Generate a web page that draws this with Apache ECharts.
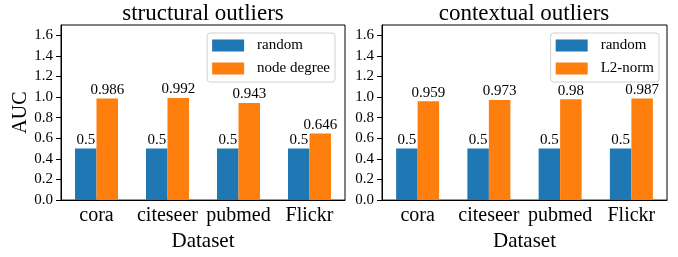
<!DOCTYPE html>
<html>
<head>
<meta charset="utf-8">
<script src="https://cdn.jsdelivr.net/npm/echarts@6/dist/echarts.min.js"></script>
<style>
    html, body { margin: 0; padding: 0; background: #fff; }
    #chart { width: 678px; height: 257px; }
</style>
</head>
<body>
<div id="chart"></div>
<script>
// 数据
const categories = ['cora', 'citeseer', 'pubmed', 'Flickr'];
const structRandom = [0.5, 0.5, 0.5, 0.5];
const nodeDegree = [0.986, 0.992, 0.943, 0.646];
const ctxRandom = [0.5, 0.5, 0.5, 0.5];
const l2Norm = [0.959, 0.973, 0.98, 0.987];
const yTicks = [0, 0.2, 0.4, 0.6, 0.8, 1.0, 1.2, 1.4, 1.6];

const font = 'Liberation Serif';
const blue = '#1f77b4';
const orange = '#ff7f0e';

const chart = echarts.init(document.getElementById('chart'));

function xAxis(gridIndex) {
    return {
        type: 'category',
        gridIndex: gridIndex,
        data: categories,
        name: 'Dataset',
        nameLocation: 'middle',
        nameGap: 26,
        nameTextStyle: { fontFamily: font, fontSize: 21, color: '#000' },
        axisLine: { lineStyle: { color: '#000', width: 1 } },
        axisTick: { alignWithLabel: true, interval: 0, length: 5, lineStyle: { color: '#000' } },
        axisLabel: { fontFamily: font, fontSize: 20, color: '#000', margin: 6, interval: 0 }
    };
}

function yAxis(gridIndex, withName) {
    return {
        type: 'value',
        gridIndex: gridIndex,
        min: 0,
        max: 1.7,
        interval: 0.2,
        name: withName ? 'AUC' : '',
        nameLocation: 'middle',
        nameRotate: 90,
        nameGap: 29,
        nameTextStyle: { fontFamily: font, fontSize: 20, color: '#000' },
        axisLine: { show: true, lineStyle: { color: '#000', width: 1 } },
        axisTick: { show: true, length: 5, customValues: yTicks, lineStyle: { color: '#000' } },
        axisLabel: {
            fontFamily: font, fontSize: 15, color: '#000', margin: 8,
            customValues: yTicks,
            formatter: v => v.toFixed(1)
        },
        splitLine: { show: false }
    };
}

function bar(name, data, color, idx) {
    return {
        type: 'bar',
        name: name,
        data: data,
        xAxisIndex: idx,
        yAxisIndex: idx,
        barWidth: 21.5,
        barGap: '0%',
        itemStyle: { color: color },
        label: {
            show: true,
            position: 'top',
            distance: 1,
            fontFamily: font,
            fontSize: 15,
            color: '#000'
        }
    };
}

function legend(names, right) {
    return {
        data: names,
        orient: 'vertical',
        right: right,
        top: 33,
        icon: 'rect',
        itemWidth: 32,
        itemHeight: 12,
        itemGap: 8,
        padding: [5, 5, 6, 5],
        borderColor: '#d0d0d0',
        borderWidth: 1,
        borderRadius: 3,
        backgroundColor: 'rgba(255,255,255,0.8)',
        textStyle: { fontFamily: font, fontSize: 15, color: '#000', padding: [0, 0, 0, 8], lineHeight: 15 }
    };
}

const option = {
    animation: false,
    backgroundColor: '#fff',
    title: [
        {
            text: 'structural outliers', left: 203, top: 2, textAlign: 'center', padding: 0,
            textStyle: { fontFamily: font, fontSize: 23, fontWeight: 'normal', color: '#000' }
        },
        {
            text: 'contextual outliers', left: 524, top: 2, textAlign: 'center', padding: 0,
            textStyle: { fontFamily: font, fontSize: 23, fontWeight: 'normal', color: '#000' }
        }
    ],
    legend: [
        legend(['random', 'node degree'], 343),
        legend(['random', 'L2-norm'], 19)
    ],
    grid: [
        { left: 61, top: 25, width: 284, height: 178, show: true, borderColor: '#000', borderWidth: 1 },
        { left: 382, top: 25, width: 285, height: 178, show: true, borderColor: '#000', borderWidth: 1 }
    ],
    xAxis: [xAxis(0), xAxis(1)],
    yAxis: [yAxis(0, true), yAxis(1, false)],
    series: [
        bar('random', structRandom, blue, 0),
        bar('node degree', nodeDegree, orange, 0),
        bar('random', ctxRandom, blue, 1),
        bar('L2-norm', l2Norm, orange, 1)
    ]
};

chart.setOption(option);
</script>
</body>
</html>
